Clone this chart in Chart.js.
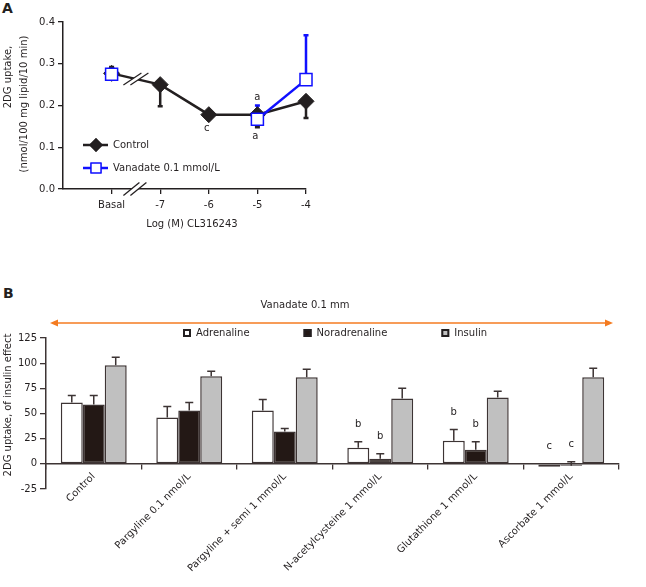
<!DOCTYPE html>
<html>
<head>
<meta charset="utf-8">
<script src="https://cdn.jsdelivr.net/npm/chart.js@4.4.1/dist/chart.umd.min.js"></script>
<style>
  html, body { margin: 0; padding: 0; background: #fff; }
  body { width: 646px; height: 587px; position: relative; overflow: hidden; font-family: "DejaVu Sans", sans-serif; color: #231f20; }
  .panel { position: absolute; left: 0; }
  .tag { position: absolute; font-weight: bold; font-size: 14px; line-height: 16px; }
</style>
</head>
<body>
<div class="tag" style="left:2px; top:0px;">A</div>
<div class="panel" style="top:0px;"><canvas id="chartA" width="330" height="240"></canvas></div>
<div class="tag" style="left:3px; top:285px;">B</div>
<div class="panel" style="top:280px;"><canvas id="chartB" width="646" height="307"></canvas></div>

<script>
// --- DATA: panel A (2DG uptake vs CL316243) ---
const doseTicks = [-8, -7, -6, -5, -4];
const doseLabels = ['Basal', '-7', '-6', '-5', '-4'];
const controlUptake = [0.277, 0.25, 0.178, 0.178, 0.21];
const controlErrUp = [0.015, 0, 0, 0, 0];
const controlErrDown = [0, 0.052, 0, 0.03, 0.04];
const controlLetters = ['', '', 'c', 'a', ''];
const vanadateUptake = [0.275, null, null, 0.167, 0.262];
const vanadateErrUp = [0, 0, 0, 0.033, 0.106];
const vanadateLetters = ['', '', '', 'a', ''];
const uptakeTicks = [0, 0.1, 0.2, 0.3, 0.4];

// --- DATA: panel B (% of insulin effect) ---
const treatments = ['Control', 'Pargyline 0.1 nmol/L', 'Pargyline + semi 1 mmol/L',
  'N-acetylcysteine 1 mmol/L', 'Glutathione 1 mmol/L', 'Ascorbate 1 mmol/L'];
const adrenaline = [61, 46, 53, 16, 23, -3];
const adrenalineErr = [7, 11, 11, 6, 11, 0];
const adrenalineLetters = ['', '', '', 'b', 'b', 'c'];
const noradrenaline = [59, 53, 32, 5, 14, -2];
const noradrenalineErr = [9, 8, 3, 5, 8, 4];
const noradrenalineLetters = ['', '', '', 'b', 'b', 'c'];
const insulin = [98, 87, 86, 65, 66, 86];
const insulinErr = [8, 5, 8, 10, 6, 9];

// --- STYLE ---
const INK = '#231f20';
const BLUE = '#1010ff';
const EDGE = '#3d3434';
const FONT = '"DejaVu Sans", sans-serif';
Chart.defaults.font.family = FONT;
Chart.defaults.font.size = 10;
Chart.defaults.color = INK;

function slashPair(ctx, cx, cy, dx, dy, gap) {
  // white gap first, then the two slanted strokes
  ctx.save();
  ctx.fillStyle = '#fff';
  ctx.beginPath();
  ctx.moveTo(cx - gap / 2 - dx, cy + dy);
  ctx.lineTo(cx - gap / 2 + dx, cy - dy);
  ctx.lineTo(cx + gap / 2 + dx, cy - dy);
  ctx.lineTo(cx + gap / 2 - dx, cy + dy);
  ctx.closePath();
  ctx.fill();
  ctx.strokeStyle = INK;
  ctx.lineWidth = 1.3;
  [-gap / 2, gap / 2].forEach(off => {
    ctx.beginPath();
    ctx.moveTo(cx + off - dx, cy + dy);
    ctx.lineTo(cx + off + dx, cy - dy);
    ctx.stroke();
  });
  ctx.restore();
}

// --- PANEL A plugin: error bars, axis breaks, letters, legend, titles ---
const panelAExtras = {
  id: 'panelAExtras',
  beforeDatasetsDraw(chart) {
    const { ctx, scales: { x, y } } = chart;
    const sets = [
      [controlUptake, controlErrUp, controlErrDown, INK],
      [vanadateUptake, vanadateErrUp, null, BLUE]
    ];
    ctx.save();
    ctx.lineWidth = 2.5;
    sets.forEach(([vals, up, down, color]) => {
      ctx.strokeStyle = color;
      vals.forEach((v, i) => {
        if (v === null) return;
        const px = x.getPixelForValue(doseTicks[i]);
        [[up, 1], [down, -1]].forEach(([errs, sign]) => {
          if (!errs || !errs[i]) return;
          const py = y.getPixelForValue(v + sign * errs[i]);
          ctx.beginPath();
          ctx.moveTo(px, y.getPixelForValue(v));
          ctx.lineTo(px, py);
          ctx.moveTo(px - 2.5, py);
          ctx.lineTo(px + 2.5, py);
          ctx.stroke();
        });
      });
    });
    ctx.restore();
  },
  afterDraw(chart) {
    const { ctx, scales: { x, y }, chartArea } = chart;
    // breaks between Basal and -7
    const bx = x.getPixelForValue(-7.5);
    const by = (y.getPixelForValue(controlUptake[0]) + y.getPixelForValue(controlUptake[1])) / 2;
    slashPair(ctx, bx, by, 9, 6, 7);
    slashPair(ctx, bx - 1, chartArea.bottom, 8, 6.5, 7);

    ctx.save();
    ctx.fillStyle = INK;
    ctx.font = '10px ' + FONT;
    ctx.textAlign = 'center';
    ctx.textBaseline = 'middle';
    controlLetters.forEach((t, i) => {
      if (!t) return;
      const low = controlUptake[i] - controlErrDown[i];
      ctx.fillText(t, x.getPixelForValue(doseTicks[i]) - 2, y.getPixelForValue(low) + (controlErrDown[i] ? 9 : 14));
    });
    vanadateLetters.forEach((t, i) => {
      if (!t) return;
      const high = vanadateUptake[i] + vanadateErrUp[i];
      ctx.fillText(t, x.getPixelForValue(doseTicks[i]), y.getPixelForValue(high) - 8);
    });

    // legend
    const items = [
      ['Control', INK, 'rectRot', 6, INK],
      ['Vanadate 0.1 mmol/L', BLUE, 'rect', 7, '#fff']
    ];
    items.forEach(([label, color, style, r, fill], k) => {
      const ly = 145 + k * 23;
      ctx.strokeStyle = color;
      ctx.lineWidth = 2.5;
      ctx.beginPath();
      ctx.moveTo(83, ly);
      ctx.lineTo(108, ly);
      ctx.stroke();
      ctx.fillStyle = fill;
      ctx.lineWidth = 1.3;
      Chart.helpers.drawPoint(ctx, { pointStyle: style, radius: r, borderWidth: 1.3, rotation: 0 }, 96, ly);
      ctx.fill();
      ctx.stroke();
      ctx.fillStyle = INK;
      ctx.textAlign = 'left';
      ctx.fillText(label, 113, ly);
    });

    // axis titles
    ctx.textAlign = 'center';
    ctx.fillText('Log (M) CL316243', 192, 224);
    ctx.save();
    ctx.translate(8, 77);
    ctx.rotate(-Math.PI / 2);
    ctx.fillText('2DG uptake,', 0, 0);
    ctx.restore();
    ctx.save();
    ctx.translate(24, 104);
    ctx.rotate(-Math.PI / 2);
    ctx.fillText('(nmol/100 mg lipid/10 min)', 0, 0);
    ctx.restore();
    ctx.restore();
  }
};

new Chart(document.getElementById('chartA'), {
  type: 'line',
  data: {
    datasets: [
      {
        label: 'Control',
        data: doseTicks.map((d, i) => ({ x: d, y: controlUptake[i] })),
        borderColor: INK,
        backgroundColor: INK,
        borderWidth: 2.5,
        pointStyle: 'rectRot',
        pointRadius: 8,
        pointBorderWidth: 1,
        clip: false,
        order: 1
      },
      {
        label: 'Vanadate 0.1 mmol/L',
        data: doseTicks.map((d, i) => ({ x: d, y: vanadateUptake[i] })),
        borderColor: BLUE,
        backgroundColor: '#fff',
        borderWidth: 2.5,
        pointStyle: 'rect',
        pointRadius: 8.5,
        pointBorderWidth: 1.5,
        spanGaps: false,
        clip: false,
        order: 0
      }
    ]
  },
  options: {
    responsive: false,
    animation: false,
    devicePixelRatio: 1,
    layout: { padding: { top: 22, right: 24, left: 0, bottom: 0 } },
    plugins: { legend: { display: false }, tooltip: { enabled: false } },
    scales: {
      x: {
        type: 'linear',
        min: -9,
        max: -4,
        afterBuildTicks: s => { s.ticks = doseTicks.map(v => ({ value: v })); },
        afterFit: s => { s.height = 51; },
        ticks: { callback: v => doseLabels[doseTicks.indexOf(v)], padding: 5, maxRotation: 0 },
        grid: { drawOnChartArea: false, tickLength: 5, color: INK, lineWidth: 1.3 },
        border: { color: INK, width: 1.5 }
      },
      y: {
        min: 0,
        max: 0.4,
        afterBuildTicks: s => { s.ticks = uptakeTicks.map(v => ({ value: v })); },
        afterFit: s => { s.width = 63; },
        ticks: { callback: v => v.toFixed(1), padding: 3 },
        grid: { drawOnChartArea: false, tickLength: 5, color: INK, lineWidth: 1.3 },
        border: { color: INK, width: 1.5 }
      }
    }
  },
  plugins: [panelAExtras]
});

// --- PANEL B plugin: error bars, letters, legend, arrow, titles ---
const panelBExtras = {
  id: 'panelBExtras',
  afterDatasetsDraw(chart) {
    const { ctx, scales: { y } } = chart;
    const errs = [adrenalineErr, noradrenalineErr, insulinErr];
    const letters = [adrenalineLetters, noradrenalineLetters, null];
    ctx.save();
    ctx.strokeStyle = EDGE;
    ctx.lineWidth = 1.5;
    ctx.fillStyle = INK;
    ctx.font = '10px ' + FONT;
    ctx.textAlign = 'center';
    ctx.textBaseline = 'middle';
    errs.forEach((set, di) => {
      const vals = chart.data.datasets[di].data;
      chart.getDatasetMeta(di).data.forEach((bar, i) => {
        const top = vals[i] + set[i];
        if (set[i]) {
          const py = y.getPixelForValue(top);
          ctx.beginPath();
          ctx.moveTo(bar.x, bar.y);
          ctx.lineTo(bar.x, py);
          ctx.moveTo(bar.x - 4, py);
          ctx.lineTo(bar.x + 4, py);
          ctx.stroke();
        }
        if (letters[di] && letters[di][i]) {
          ctx.fillText(letters[di][i], bar.x, y.getPixelForValue(Math.max(top, 0)) - 17);
        }
      });
    });
    ctx.restore();
  },
  afterDraw(chart) {
    const { ctx } = chart;
    ctx.save();
    ctx.font = '10px ' + FONT;
    ctx.fillStyle = INK;
    ctx.textBaseline = 'middle';
    ctx.textAlign = 'center';
    ctx.fillText('Vanadate 0.1 mm', 305, 25);

    // double-headed orange arrow
    const ay = 43, ax0 = 50, ax1 = 613;
    ctx.strokeStyle = '#f47b20';
    ctx.fillStyle = '#f47b20';
    ctx.lineWidth = 1.6;
    ctx.beginPath();
    ctx.moveTo(ax0 + 4, ay);
    ctx.lineTo(ax1 - 4, ay);
    ctx.stroke();
    [[ax0, 1], [ax1, -1]].forEach(([px, dir]) => {
      ctx.beginPath();
      ctx.moveTo(px, ay);
      ctx.lineTo(px + dir * 8, ay - 3.5);
      ctx.lineTo(px + dir * 8, ay + 3.5);
      ctx.closePath();
      ctx.fill();
    });

    // legend
    let lx = 183;
    const ly = 53;
    chart.data.datasets.forEach(ds => {
      ctx.fillStyle = ds.backgroundColor;
      ctx.fillRect(lx, ly - 4, 8, 8);
      ctx.strokeStyle = INK;
      ctx.lineWidth = 2;
      ctx.strokeRect(lx + 1, ly - 3, 6, 6);
      ctx.fillStyle = INK;
      ctx.textAlign = 'left';
      ctx.fillText(ds.label, lx + 13, ly);
      lx += 13 + ctx.measureText(ds.label).width + 54;
    });

    // y title
    ctx.textAlign = 'center';
    ctx.translate(8, 125);
    ctx.rotate(-Math.PI / 2);
    ctx.fillText('2DG uptake, of insulin effect', 0, 0);
    ctx.restore();
  }
};

const barStyle = { borderColor: EDGE, borderWidth: 1.5, borderSkipped: false, categoryPercentage: 0.69, barPercentage: 1 };

new Chart(document.getElementById('chartB'), {
  type: 'bar',
  data: {
    labels: treatments,
    datasets: [
      Object.assign({ label: 'Adrenaline', data: adrenaline, backgroundColor: '#ffffff' }, barStyle),
      Object.assign({ label: 'Noradrenaline', data: noradrenaline, backgroundColor: '#231815' }, barStyle),
      Object.assign({ label: 'Insulin', data: insulin, backgroundColor: '#c0c0c0' }, barStyle)
    ]
  },
  options: {
    responsive: false,
    animation: false,
    devicePixelRatio: 1,
    layout: { padding: { top: 58, right: 27, bottom: 98, left: 0 } },
    plugins: { legend: { display: false }, tooltip: { enabled: false } },
    scales: {
      x: {
        position: { y: 0 },
        afterFit: s => { s.height = 0; },
        ticks: { minRotation: 45, maxRotation: 45, padding: 2, autoSkip: false },
        grid: { offset: true, drawOnChartArea: false, tickLength: 5, color: EDGE, lineWidth: 1.3 },
        border: { color: EDGE, width: 1.5 }
      },
      y: {
        min: -25,
        max: 125,
        ticks: { stepSize: 25, padding: 3 },
        afterFit: s => { s.width = 46; },
        grid: { drawOnChartArea: false, tickLength: 6, color: EDGE, lineWidth: 1.3 },
        border: { color: EDGE, width: 1.5 }
      }
    }
  },
  plugins: [panelBExtras]
});
</script>
</body>
</html>
